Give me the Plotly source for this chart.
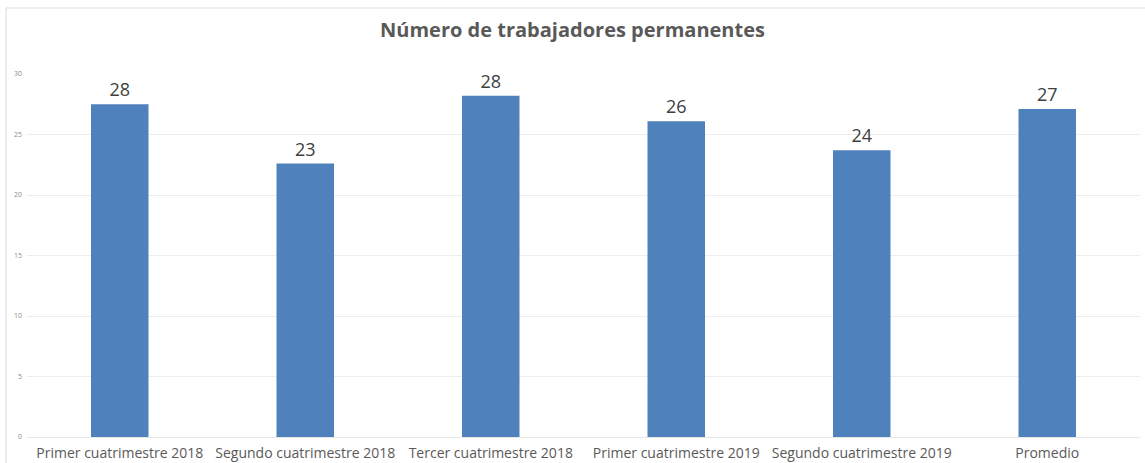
import plotly.graph_objects as go

categories = ["Primer cuatrimestre 2018", "Segundo cuatrimestre 2018", "Tercer cuatrimestre 2018",
              "Primer cuatrimestre 2019", "Segundo cuatrimestre 2019", "Promedio"]
values = [27.5, 22.6, 28.2, 26.1, 23.7, 27.1]
y_ticks = [0, 5, 10, 15, 20, 25, 30]

W, H = 1145, 463
ml, mr, mt, mb = 27, 5, 74, 26
pw, ph = W - ml - mr, H - mt - mb

fig = go.Figure(go.Bar(
    x=categories, y=values,
    marker=dict(color="#4F81BD", line=dict(width=0)),
    width=0.31,
    texttemplate="%{y:.0f}", textposition="outside",
    textfont=dict(family="Open Sans", size=18, color="#404040"),
    cliponaxis=False,
))

fig.update_layout(
    width=W, height=H,
    margin=dict(l=ml, r=mr, t=mt, b=mb),
    paper_bgcolor="white", plot_bgcolor="white",
    showlegend=False,
    title=dict(text="<b>Número de trabajadores permanentes</b>", x=0.5, xanchor="center",
               y=1 - 30 / H, yanchor="middle",
               font=dict(family="Open Sans", size=20, color="#595959")),
    xaxis=dict(showline=False, showgrid=False, ticks="", automargin=False,
               tickfont=dict(family="Open Sans", size=14, color="#595959"),
               ticklabelstandoff=6),
    yaxis=dict(range=[0, 30], tickvals=y_ticks, showgrid=True, gridcolor="#ececec",
               gridwidth=1, zeroline=True, zerolinecolor="#e6e6e6", zerolinewidth=1,
               showline=False, ticks="", automargin=False,
               tickfont=dict(family="Open Sans", size=7, color="#8c8c8c"),
               ticklabelstandoff=4),
    bargap=0.69,
)

# chart border (top and left)
x_left = (6 - ml) / pw
y_top = 1 + (mt - 8) / ph
fig.add_shape(type="line", xref="paper", yref="paper", x0=x_left, x1=1 + mr / pw,
              y0=y_top, y1=y_top, line=dict(color="#d9d9d9", width=1))
fig.add_shape(type="line", xref="paper", yref="paper", x0=x_left, x1=x_left,
              y0=-mb / ph, y1=y_top, line=dict(color="#d9d9d9", width=1))

fig.write_html("out.html", config={"displayModeBar": False},
               post_script="document.body.style.margin='0';document.body.style.overflow='hidden';")
